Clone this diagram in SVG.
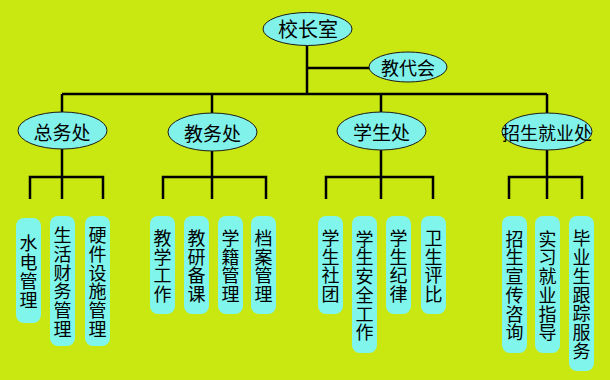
<svg xmlns="http://www.w3.org/2000/svg" width="610" height="380" viewBox="0 0 610 380">
<style>
.bg{fill:#C9E812}
.ell{fill:#80F2EA;stroke:#1a1a1a;stroke-width:1}
.box{fill:#80F5EC}
.lines path{fill:none;stroke:#000;stroke-width:2.5}
.t{font-family:"Noto Sans CJK SC","Noto Sans CJK JP",sans-serif;fill:#000;text-anchor:middle;dominant-baseline:central}
.et{font-size:19px}
.bt{font-size:18px}
</style>
<rect class="bg" x="0" y="0" width="610" height="380"/>
<g id="connectors" class="lines">
<path d="M307 46V94M307 68H369M62 94H547"/>
<path d="M62 94V112M212 94V113M381 94V112M547 94V113"/>
<path d="M62 149V199M30 199V177H103V199"/>
<path d="M212 151V199M163 199V177H266V199"/>
<path d="M381 150V199M326 199V177H433V199"/>
<path d="M547 150V199M509 199V177H582V199"/>
</g>
<g id="principal"><ellipse class="ell" cx="307.5" cy="29" rx="44.5" ry="16.5"/><text class="t et" x="308" y="28.5" style="font-size:20px">校长室</text></g>
<g id="staff-congress"><ellipse class="ell" cx="408" cy="67" rx="39" ry="15"/><text class="t et" x="408" y="67" style="font-size:18px">教代会</text></g>
<g id="general-affairs"><ellipse class="ell" cx="62.5" cy="130.5" rx="44.5" ry="18.5"/><text class="t et" x="62" y="131">总务处</text></g>
<g id="academic-affairs"><ellipse class="ell" cx="212.5" cy="132" rx="44.5" ry="19"/><text class="t et" x="212.5" y="132">教务处</text></g>
<g id="student-affairs"><ellipse class="ell" cx="381.5" cy="131" rx="44.5" ry="19"/><text class="t et" x="381.5" y="131">学生处</text></g>
<g id="admissions"><ellipse class="ell" cx="547" cy="131.5" rx="45" ry="18.5"/><text class="t et" x="547" y="131.5" style="font-size:18px">招生就业处</text></g>

<g id="b1"><rect class="box" x="16" y="218" width="25" height="105" rx="8"/><text class="t bt"><tspan x="28.5" y="242.45">水</tspan><tspan x="28.5" y="261.15">电</tspan><tspan x="28.5" y="279.85">管</tspan><tspan x="28.5" y="298.55">理</tspan></text></g>
<g id="b2"><rect class="box" x="50" y="216" width="25" height="130" rx="8"/><text class="t bt"><tspan x="62.5" y="234.25">生</tspan><tspan x="62.5" y="252.95">活</tspan><tspan x="62.5" y="271.65">财</tspan><tspan x="62.5" y="290.35">务</tspan><tspan x="62.5" y="309.05">管</tspan><tspan x="62.5" y="327.75">理</tspan></text></g>
<g id="b3"><rect class="box" x="85" y="216" width="25" height="130" rx="8"/><text class="t bt"><tspan x="97.5" y="234.25">硬</tspan><tspan x="97.5" y="252.95">件</tspan><tspan x="97.5" y="271.65">设</tspan><tspan x="97.5" y="290.35">施</tspan><tspan x="97.5" y="309.05">管</tspan><tspan x="97.5" y="327.75">理</tspan></text></g>
<g id="b4"><rect class="box" x="150" y="216" width="25" height="98" rx="8"/><text class="t bt"><tspan x="162.5" y="236.95">教</tspan><tspan x="162.5" y="255.65">学</tspan><tspan x="162.5" y="274.35">工</tspan><tspan x="162.5" y="293.05">作</tspan></text></g>
<g id="b5"><rect class="box" x="184" y="216" width="25" height="98" rx="8"/><text class="t bt"><tspan x="196.5" y="236.95">教</tspan><tspan x="196.5" y="255.65">研</tspan><tspan x="196.5" y="274.35">备</tspan><tspan x="196.5" y="293.05">课</tspan></text></g>
<g id="b6"><rect class="box" x="218" y="216" width="25" height="98" rx="8"/><text class="t bt"><tspan x="230.5" y="236.95">学</tspan><tspan x="230.5" y="255.65">籍</tspan><tspan x="230.5" y="274.35">管</tspan><tspan x="230.5" y="293.05">理</tspan></text></g>
<g id="b7"><rect class="box" x="251" y="216" width="25" height="98" rx="8"/><text class="t bt"><tspan x="263.5" y="236.95">档</tspan><tspan x="263.5" y="255.65">案</tspan><tspan x="263.5" y="274.35">管</tspan><tspan x="263.5" y="293.05">理</tspan></text></g>
<g id="b8"><rect class="box" x="318" y="216" width="25" height="98" rx="8"/><text class="t bt"><tspan x="330.5" y="236.95">学</tspan><tspan x="330.5" y="255.65">生</tspan><tspan x="330.5" y="274.35">社</tspan><tspan x="330.5" y="293.05">团</tspan></text></g>
<g id="b9"><rect class="box" x="352" y="216" width="25" height="137" rx="8"/><text class="t bt"><tspan x="364.5" y="237.75">学</tspan><tspan x="364.5" y="256.45">生</tspan><tspan x="364.5" y="275.15">安</tspan><tspan x="364.5" y="293.85">全</tspan><tspan x="364.5" y="312.55">工</tspan><tspan x="364.5" y="331.25">作</tspan></text></g>
<g id="b10"><rect class="box" x="386" y="216" width="25" height="98" rx="8"/><text class="t bt"><tspan x="398.5" y="236.95">学</tspan><tspan x="398.5" y="255.65">生</tspan><tspan x="398.5" y="274.35">纪</tspan><tspan x="398.5" y="293.05">律</tspan></text></g>
<g id="b11"><rect class="box" x="421" y="216" width="25" height="98" rx="8"/><text class="t bt"><tspan x="433.5" y="236.95">卫</tspan><tspan x="433.5" y="255.65">生</tspan><tspan x="433.5" y="274.35">评</tspan><tspan x="433.5" y="293.05">比</tspan></text></g>
<g id="b12"><rect class="box" x="502" y="216" width="25" height="137" rx="8"/><text class="t bt"><tspan x="514.5" y="237.75">招</tspan><tspan x="514.5" y="256.45">生</tspan><tspan x="514.5" y="275.15">宣</tspan><tspan x="514.5" y="293.85">传</tspan><tspan x="514.5" y="312.55">咨</tspan><tspan x="514.5" y="331.25">询</tspan></text></g>
<g id="b13"><rect class="box" x="535" y="216" width="25" height="137" rx="8"/><text class="t bt"><tspan x="547.5" y="237.75">实</tspan><tspan x="547.5" y="256.45">习</tspan><tspan x="547.5" y="275.15">就</tspan><tspan x="547.5" y="293.85">业</tspan><tspan x="547.5" y="312.55">指</tspan><tspan x="547.5" y="331.25">导</tspan></text></g>
<g id="b14"><rect class="box" x="569" y="216" width="25" height="155" rx="8"/><text class="t bt"><tspan x="581.5" y="237.4">毕</tspan><tspan x="581.5" y="256.1">业</tspan><tspan x="581.5" y="274.8">生</tspan><tspan x="581.5" y="293.5">跟</tspan><tspan x="581.5" y="312.2">踪</tspan><tspan x="581.5" y="330.9">服</tspan><tspan x="581.5" y="349.6">务</tspan></text></g>
</svg>
